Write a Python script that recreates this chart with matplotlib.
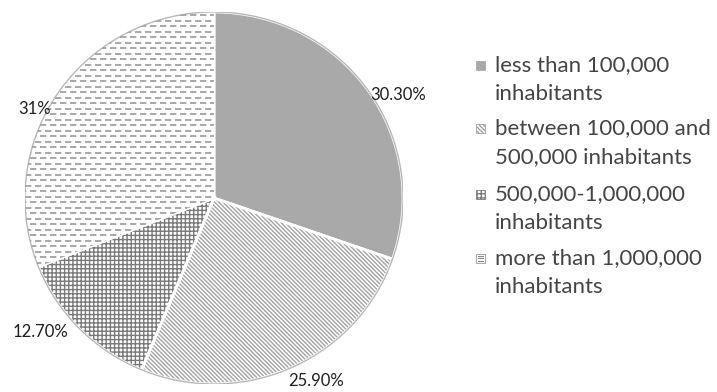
import numpy as np
import matplotlib
matplotlib.use("Agg")
import matplotlib.pyplot as plt
from matplotlib.patches import Rectangle, Circle
from matplotlib.lines import Line2D

# City-size shares (%), clockwise from 12 o'clock
categories = [
    "less than 100,000\ninhabitants",
    "between 100,000 and\n500,000 inhabitants",
    "500,000-1,000,000\ninhabitants",
    "more than 1,000,000\ninhabitants",
]
shares = [30.30, 25.90, 12.70, 31.0]
value_labels = ["30.30%", "25.90%", "12.70%", "31%"]

# Label anchor points in pie units (radius = 1)
label_pos = [(0.975, 0.555), (0.54, -0.985), (-0.92, -0.72), (-0.95, 0.48)]

face_colors = ["#a9a9a9", "white", "white", "white"]
hatch_colors = ["#a9a9a9", "#a3a3a3", "#7a7a7a", "#9a9a9a"]
hatches = [None, "\\" * 8, "++++", None]

plt.rcParams["font.family"] = ["Lato", "DejaVu Sans"]
plt.rcParams["hatch.linewidth"] = 1.0

fig = plt.figure(figsize=(7.17, 3.92), dpi=100)
ax = fig.add_axes([25 / 717, 8 / 392, 378 / 717, 372 / 392])

wedges, _ = ax.pie(shares, startangle=90, counterclock=False, radius=1,
                   colors=face_colors, hatch=hatches,
                   wedgeprops=dict(linewidth=0))
for w, hc in zip(wedges, hatch_colors):
    w.set_edgecolor(hc)
    w.set_linewidth(0)

ax.set_aspect("auto")
ax.set_xlim(-1, 1)
ax.set_ylim(-1, 1)
ax.axis("off")

# Dashed horizontal texture for the largest-city slice
row_step = 0.0296
for i, y in enumerate(np.arange(-1.0, 1.0, row_step)):
    off = 0 if i % 2 == 0 else 3.0
    ln = Line2D([-1, 1], [y, y], color="#9a9a9a", lw=1.2,
                linestyle=(off, (3.8, 2.2)))
    ax.add_line(ln)
    ln.set_clip_path(wedges[3])

# White slice separators and a soft outer rim
sep, _ = ax.pie(shares, startangle=90, counterclock=False, radius=1,
                colors=["none"] * 4,
                wedgeprops=dict(linewidth=2.0, edgecolor="white"))
ax.set_aspect("auto")
ax.set_xlim(-1, 1)
ax.set_ylim(-1, 1)
ax.add_patch(Circle((0, 0), 1.0, fill=False, ec="#b8b8b8", lw=1.0))

for txt, (x, y) in zip(value_labels, label_pos):
    ax.text(x, y, txt, ha="center", va="center", fontsize=12,
            color="#1e1e1e")

# Legend
W, H = 717, 392
entry_y = [65, 128, 194, 258]
line_gap = 29
for lab, y, fc, hc, h in zip(categories, entry_y, face_colors, hatch_colors, hatches):
    sq = 9
    r = Rectangle(((480.5 - sq / 2) / W, 1 - (y + sq / 2) / H), sq / W, sq / H,
                  transform=fig.transFigure, facecolor=fc, edgecolor=hc,
                  hatch=h, lw=0.6)
    fig.patches.append(r)
    l1, l2 = lab.split("\n")
    fig.text(495 / W, 1 - y / H, l1, ha="left", va="center",
             fontsize=16, color="#444444")
    fig.text(495 / W, 1 - (y + line_gap) / H, l2, ha="left", va="center",
             fontsize=16, color="#444444")

# Dashed legend swatch texture for the last entry
y = entry_y[3]
for k in range(3):
    yy = y - 2.5 + k * 2.5
    fig.lines.append(Line2D([(480.5 - 3) / W, (480.5 + 3) / W],
                            [1 - yy / H, 1 - yy / H], transform=fig.transFigure,
                            color="#888888", lw=0.8))

fig.savefig("out.png", dpi=100, facecolor="white")
